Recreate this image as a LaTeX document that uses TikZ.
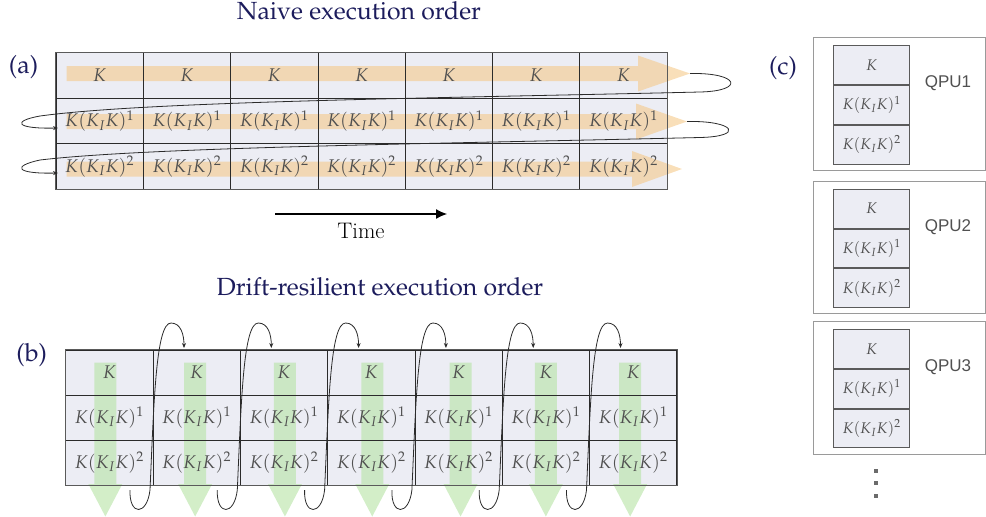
\documentclass[tikz,border=0pt]{standalone}
\usepackage{mathpazo}
\usepackage[no-math]{fontspec}
\newfontfamily\qpufont{Liberation Sans}
\usetikzlibrary{arrows.meta,calc}
\definecolor{cellfill}{HTML}{ECEDF4}
\definecolor{gridline}{HTML}{2B2B2B}
\definecolor{borderc}{HTML}{5A5A5A}
\definecolor{bandc}{HTML}{F5C98A}
\definecolor{greenc}{HTML}{B5E3A4}
\definecolor{navy}{HTML}{1C1C5C}
\definecolor{txtc}{HTML}{505050}
\definecolor{boxc}{HTML}{9A9A9A}
\definecolor{dotc}{HTML}{6B6B6B}
\newcommand{\cellfontA}{\fontsize{18.4}{21}\selectfont}
\newcommand{\cellfontC}{\fontsize{15.5}{18}\selectfont}
\newcommand{\palfont}{\fontencoding{OT1}\fontfamily{ppl}\selectfont}
\newcommand{\titlefont}{\palfont\fontsize{24.8}{28}\selectfont}
\newcommand{\lblfont}{\palfont\fontsize{25}{28}\selectfont}
\begin{document}
\begin{tikzpicture}[x=1pt,y=-1pt,
  acell/.style={minimum width=87.3pt,minimum height=45.6pt,inner sep=0pt,draw=gridline,line width=0.8pt,text=txtc,font=\cellfontA},
  bcell/.style={minimum width=87.3pt,minimum height=45pt,inner sep=0pt,draw=gridline,line width=0.8pt,text=txtc,font=\cellfontA},
  ccell/.style={minimum width=76.3pt,minimum height=38.8pt,inner sep=0pt,draw=borderc,fill=cellfill,line width=1pt,text=txtc,font=\cellfontC},
  outerb/.style={draw=borderc,line width=1.2pt},
  qbox/.style={draw=boxc,line width=1pt,minimum width=172pt,minimum height=132.7pt,inner sep=0pt},
  qpu/.style={text=txtc,font=\qpufont\fontsize{17}{20}\selectfont,inner sep=0pt},
  ttl/.style={text=navy,font=\titlefont,inner sep=0pt},
  lbl/.style={text=navy,font=\lblfont,inner sep=0pt},
  conn/.style={draw=gridline,line width=0.8pt,-{Stealth[length=5pt,width=4pt]}},
  band/.style={fill=bandc,opacity=0.6},
  gband/.style={fill=greenc,opacity=0.6}]
\useasboundingbox (0,0) rectangle (986,517);

% ---------------- (a) ----------------
\node[ttl] (ta) at (359,11) {Naive execution order};
\node[lbl] (la) at (23.5,67) {(a)};
\fill[cellfill] (56,52.5) rectangle (667.1,189.3);
\fill[band] (66.7,66) -- (638,66) -- (638,55.5) -- (690,73.5) -- (638,91.5) -- (638,81) -- (66.7,81) -- cycle;
\fill[band] (66.7,114) -- (636,114) -- (636,103.5) -- (687,121.5) -- (636,139.5) -- (636,129) -- (66.7,129) -- cycle;
\fill[band] (66.7,161.5) -- (632,161.5) -- (632,151) -- (682,169) -- (632,187) -- (632,176.5) -- (66.7,176.5) -- cycle;
\foreach \c in {1,...,7} {
  \pgfmathsetmacro\xc{56+87.3*(\c-0.5)}
  \node[acell] (a-1-\c) at (\xc,75.3) {$K$};
  \node[acell] (a-2-\c) at (\xc,120.9) {$K(K_I K)^1$};
  \node[acell] (a-3-\c) at (\xc,166.5) {$K(K_I K)^2$};
}
\draw[outerb] (a-1-1.north west) rectangle (a-3-7.south east);
\coordinate (atip1) at (690,73.5);
\coordinate (atip2) at (687,121.5);
\coordinate (am1) at (700,92);
\coordinate (al1) at (40,116);
\coordinate (aend2) at (58,128);
\coordinate (am2) at (700,137.5);
\coordinate (al2) at (40,160);
\coordinate (aend3) at (58,173);
\draw[conn] (atip1) .. controls +(50,-1) and +(45,-1) .. (am1)
  .. controls +(-250,6) and +(110,-15) .. (al1)
  .. controls +(-28,5) and +(-43,1) .. (aend2);
\draw[conn] (atip2) .. controls +(48,-1) and +(45,-1) .. (am2)
  .. controls +(-250,6) and +(110,-13) .. (al2)
  .. controls +(-28,6) and +(-43,1) .. (aend3);
\coordinate (t0) at (275,214);
\coordinate (t1) at (447,214);
\draw[line width=1.1pt,-{Latex[length=11pt,width=10pt]}] (t0) -- (t1);
\node[inner sep=0pt,font=\fontsize{22.5}{26}\selectfont] (time) at (361,231) {Time};

% ---------------- (b) ----------------
\node[ttl] (tb) at (380,287) {Drift-resilient execution order};
\node[lbl] (lb) at (31.7,355) {(b)};
\fill[cellfill] (65.7,350) rectangle (676.8,485);
\foreach \c/\o in {1/-4,2/-1.5,3/1,4/1,5/2,6/0,7/-3} {
  \pgfmathsetmacro\xc{65.7+87.3*(\c-0.5)+\o}
  \fill[gband] (\xc-11,362.7) -- (\xc+11,362.7) -- (\xc+11,484) -- (\xc+17,484) -- (\xc,516.5) -- (\xc-17,484) -- (\xc-11,484) -- cycle;
}
\foreach \c in {1,...,7} {
  \pgfmathsetmacro\xc{65.7+87.3*(\c-0.5)}
  \node[bcell] (b-1-\c) at (\xc,372.5) {$K$};
  \node[bcell] (b-2-\c) at (\xc,417.5) {$K(K_I K)^1$};
  \node[bcell] (b-3-\c) at (\xc,462.5) {$K(K_I K)^2$};
}
\draw[outerb] (b-1-1.north west) rectangle (b-3-7.south east);
\foreach \i in {1,...,6} {
  \pgfmathsetmacro\xb{65.7+87.3*\i}
  \coordinate (bs\i) at (\xb-23,490);
  \coordinate (bu\i) at (\xb-3,490);
  \coordinate (bp\i) at (\xb+18,323);
  \coordinate (be\i) at (\xb+31,348);
  \draw[conn] (bs\i) .. controls +(-1,26) and +(-3,26) .. (bu\i)
    .. controls +(4,-90) and +(-15,0) .. (bp\i)
    .. controls +(10,0) and +(0,-13) .. (be\i);
}

% ---------------- (c) ----------------
\node[lbl] (lc) at (783,68) {(c)};
\foreach \k/\t in {1/37.3,2/180.7,3/321} {
  \node[qbox,anchor=north west] (q\k) at (813.3,\t) {};
  \node[ccell,anchor=north west] (c-\k-1) at (833,\t+8) {$K$};
  \node[ccell,anchor=north] (c-\k-2) at (c-\k-1.south) {$K(K_I K)^1$};
  \node[ccell,anchor=north] (c-\k-3) at (c-\k-2.south) {$K(K_I K)^2$};
  \node[qpu] (qpu\k) at (948,\t+46) {QPU\k};
}
\fill[dotc] (873.7,468.7) rectangle +(4,4);
\fill[dotc] (873.7,481.3) rectangle +(4,4);
\fill[dotc] (873.7,494) rectangle +(4,4);
\end{tikzpicture}
\end{document}
